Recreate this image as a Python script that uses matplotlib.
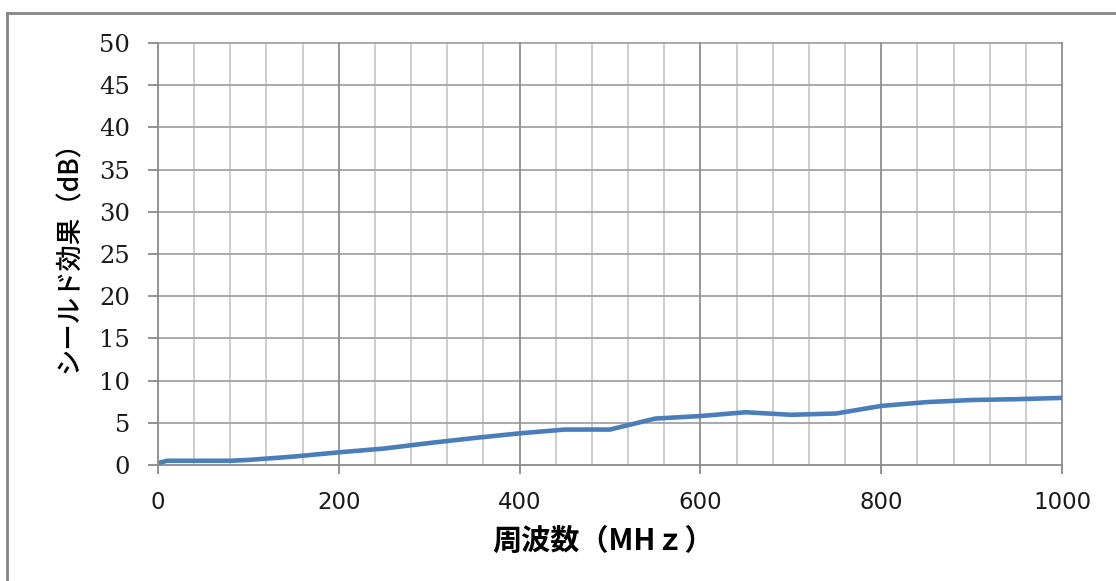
import matplotlib
matplotlib.use("Agg")
import matplotlib.pyplot as plt
from matplotlib.lines import Line2D
import numpy as np

# ---- data ----
freq_mhz = [1, 10, 50, 80, 100, 150, 200, 250, 300, 350, 400, 450, 500,
            550, 600, 650, 700, 750, 800, 850, 900, 950, 1000]
shield_db = [0.25, 0.5, 0.5, 0.5, 0.6, 1.0, 1.5, 1.95, 2.6, 3.2, 3.75, 4.2, 4.2,
             5.5, 5.8, 6.25, 5.95, 6.1, 7.0, 7.45, 7.7, 7.8, 7.95]

x_ticks = [0, 200, 400, 600, 800, 1000]
y_ticks = [0, 5, 10, 15, 20, 25, 30, 35, 40, 45, 50]
x_label = "周波数（MHｚ）"
y_label = "シールド効果（dB）"

W, H = 1116, 581
fig = plt.figure(figsize=(W / 100, H / 100), dpi=100)
fig.patch.set_facecolor("white")

# axes placement (pixels -> figure fraction)
left, right, top, bottom = 158, 1062, 43, 465
ax = fig.add_axes([left / W, 1 - bottom / H, (right - left) / W, (bottom - top) / H])

ax.set_xlim(0, 1000)
ax.set_ylim(0, 50)

# grid
for xv in np.arange(40, 1000, 40):
    if xv % 200 != 0:
        ax.axvline(xv, color="#c9c9c9", lw=1.3, zorder=1)
for xv in [200, 400, 600, 800, 1000]:
    ax.axvline(xv, color="#8f8f8f", lw=1.3, zorder=1.1, clip_on=False)
for yv in y_ticks[1:]:
    ax.axhline(yv, color="#a3a3a3", lw=1.3, zorder=1.05, clip_on=False)

ax.plot(freq_mhz, shield_db, color="#4a7ebb", lw=3.3, solid_joinstyle="round",
        solid_capstyle="butt", zorder=3)

for s in ["top", "right"]:
    ax.spines[s].set_visible(False)
ax.spines["left"].set_color("#8a8a8a")
ax.spines["bottom"].set_color("#8a8a8a")
ax.spines["left"].set_linewidth(1.3)
ax.spines["bottom"].set_linewidth(1.3)

ax.set_xticks(x_ticks)
ax.set_yticks(y_ticks)
ax.set_xticklabels([str(v) for v in x_ticks], family="DejaVu Sans", fontsize=16.5,
                   color="#1a1a1a")
ax.set_yticklabels([str(v) for v in y_ticks], family="DejaVu Serif", fontsize=17.5,
                   color="#1a1a1a")
ax.tick_params(axis="y", direction="out", length=7, width=1.3, color="#8a8a8a", pad=13)
ax.tick_params(axis="x", direction="out", length=6.5, width=1.3, color="#8a8a8a", pad=12)

# axis titles
fig.text(603 / W, 1 - 541 / H, x_label, ha="center", va="center",
         family=["Noto Sans CJK JP", "DejaVu Sans"], fontsize=21, fontweight="bold")
fig.text(69 / W, 1 - 250 / H, y_label, ha="center", va="center", rotation=90,
         family=["Noto Sans CJK JP", "DejaVu Sans"], fontsize=19, fontweight="medium")

# outer chart border (left and top edges visible)
fig.add_artist(Line2D([7 / W, 7 / W], [0, 1 - 13 / H], transform=fig.transFigure,
                      color="#858585", lw=2))
fig.add_artist(Line2D([7 / W, 1.0], [1 - 13 / H, 1 - 13 / H], transform=fig.transFigure,
                      color="#858585", lw=2))

fig.savefig("out.png", dpi=100, facecolor="white")
